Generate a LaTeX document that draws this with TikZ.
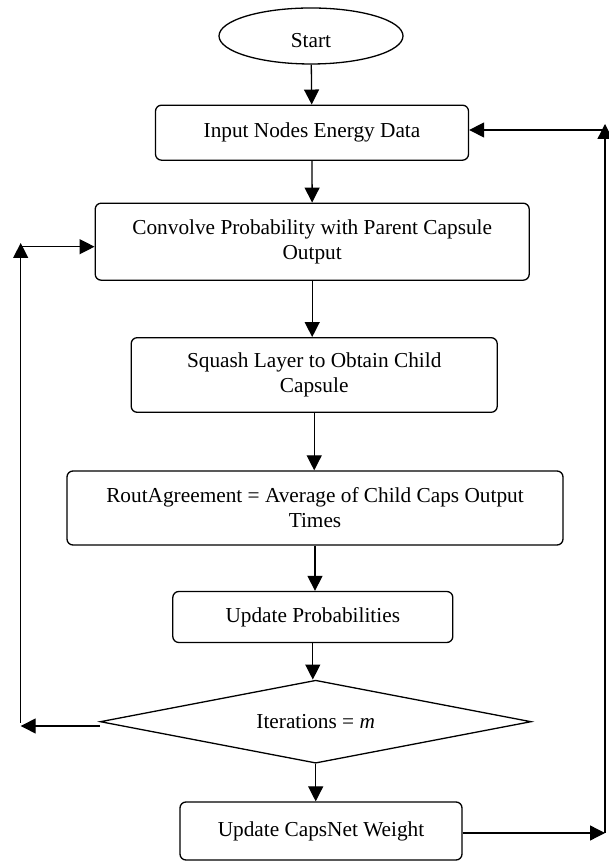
\documentclass[tikz,border=0pt]{standalone}
\usepackage{fontspec}
\setmainfont{Liberation Serif}
\usetikzlibrary{shapes.geometric,arrows.meta}
\begin{document}
\begin{tikzpicture}[x=1pt, y=1pt,
   every node/.style={draw, line width=1.3pt, font=\fontsize{21.3}{25}\selectfont, align=center, inner sep=0pt},
   stage/.style={rectangle, rounded corners=6pt},
   terminal/.style={ellipse, minimum width=184pt, minimum height=56pt},
   decision/.style={diamond, aspect=5.2, minimum width=431pt, minimum height=83pt},
   arr/.style={-{Triangle[length=15pt,width=15pt]}, line width=1.3pt}]

\useasboundingbox (0,0) rectangle (609,861);

\node[terminal] (start) at (311,825) {\raisebox{-12pt}[0pt][0pt]{Start}};
\node[stage, minimum width=313pt, minimum height=55pt] (input) at (312,728.3) {Input Nodes Energy Data};
\node[stage, minimum width=434pt, minimum height=77pt] (conv) at (312.2,619.3) {Convolve Probability with Parent Capsule\\Output};
\node[stage, minimum width=366pt, minimum height=74.6pt] (squash) at (314.2,486) {Squash Layer to Obtain Child\\Capsule};
\node[stage, minimum width=496pt, minimum height=74pt] (rout) at (315,353) {RoutAgreement = Average of Child Caps Output\\Times};
\node[stage, minimum width=280pt, minimum height=51pt] (prob) at (312.8,244) {Update Probabilities};
\node[decision] (iter) at (315.7,139.3) {Iterations = \textit{m}};
\node[stage, minimum width=282pt, minimum height=58pt] (weight) at (321,30) {Update CapsNet Weight};

\coordinate (lb) at (20.7,135);
\coordinate (lt) at (20.7,618);
\coordinate (rb) at (605,28);
\coordinate (rt) at (605,737);

\draw[arr] (start) -- (input);
\draw[arr] (input) -- (conv);
\draw[arr] (conv.south) -- (conv.south |- squash.north);
\draw[arr] (squash.south) -- (squash.south |- rout.north);
\draw[arr] (rout.south) -- (rout.south |- prob.north);
\draw[arr] (prob.south) -- (prob.south |- iter.north);
\draw[arr] (iter.south) -- (iter.south |- weight.north);

\draw[arr] (iter.west |- lb) -- (lb);
\draw[arr] ([yshift=3pt]lb) -- (lt);
\draw[arr] ([yshift=-5pt]lt |- conv.west) -- ([yshift=-5pt]conv.west);

\draw[arr] (weight.east |- rb) -- (rb);
\draw[arr] (rb) -- (rt);
\draw[arr] ([yshift=-6pt]rt) -- ([yshift=-6pt]rt -| input.east);

\end{tikzpicture}
\end{document}
